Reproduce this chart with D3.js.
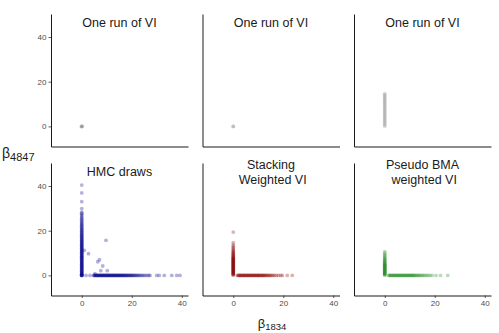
<!DOCTYPE html>
<html>
<head>
<meta charset="utf-8">
<script src="https://cdn.jsdelivr.net/npm/d3@7"></script>
<style>
  body { margin: 0; background: #fff; }
  text { font-family: "Liberation Sans", Arial, sans-serif; }
</style>
</head>
<body>
<div class="chart"></div>
<script>
// values: beta_1834 (x) against beta_4847 (y)
// "spike" = draws with beta_1834 at 0, "slab" = draws with beta_4847 at 0
const titles = ['One run of VI', 'One run of VI', 'One run of VI', 'HMC draws', 'Stacking\n\u00a0Weighted VI', 'Pseudo BMA\n\u00a0weighted VI'];
const colors = ['#7f7f7f', '#7f7f7f', '#7f7f7f', '#00008b', '#8b0000', '#228b22'];
const opacities = [0.2, 0.2, 0.2, 0.3, 0.3, 0.3];
const xTicks = [0, 20, 40];
const yTicks = [0, 20, 40];

const vi1Points = [[0, 0], [0, 0], [0, 0], [0.2, 0.1], [-0.2, -0.1], [0.1, -0.1]];
const vi2Points = [[0, 0], [0, 0], [0, 0]];
const vi3Spike = [0.0, 0.4, 0.9, 1.3, 1.8, 2.2, 2.7, 3.1, 3.6, 4.0, 4.5, 4.9, 5.4, 5.8, 6.3, 6.7, 7.2, 7.6, 8.1, 8.5,
    9.0, 9.4, 9.9, 10.3, 10.8, 11.2, 11.7, 12.1, 12.6, 13.0, 13.5, 13.9, 14.4, 14.7];

const hmcSpike = [0.1, 0.3, 0.5, 0.8, 1.0, 1.2, 1.5, 1.7, 1.9, 2.2, 2.4, 2.6, 2.9, 3.1, 3.3, 3.6, 3.8, 4.0, 4.3, 4.5,
    4.8, 5.0, 5.2, 5.5, 5.7, 6.0, 6.2, 6.4, 6.7, 6.9, 7.2, 7.4, 7.7, 7.9, 8.1, 8.4, 8.6, 8.9, 9.1, 9.4, 9.6, 9.9,
    10.1, 10.4, 10.6, 10.9, 11.1, 11.4, 11.7, 11.9, 12.2, 12.4, 12.7, 13.0, 13.2, 13.5, 13.8, 14.0, 14.3, 14.6,
    14.9, 15.1, 15.4, 15.7, 16.0, 16.3, 16.6, 16.9, 17.2, 17.5, 17.8, 18.1, 18.4, 18.8, 19.1, 19.4, 19.8, 20.1,
    20.5, 20.8, 21.2, 21.6, 22.0, 22.4, 22.8, 23.2, 23.7, 24.1, 24.6, 25.1, 25.6, 26.1, 26.7, 27.2, 27.8, 28.3,
    29.9, 33.0, 36.9, 40.4];
const hmcSlab = [1.7, 3.3, 4.7, 4.9, 5.2, 5.4, 5.6, 5.9, 6.1, 6.3, 6.6, 6.8, 7.0, 7.3, 7.5, 7.7, 8.0, 8.2, 8.4, 8.7,
    8.9, 9.1, 9.4, 9.6, 9.8, 10.1, 10.3, 10.5, 10.8, 11.0, 11.2, 11.5, 11.7, 11.9, 12.2, 12.4, 12.6, 12.9, 13.1,
    13.3, 13.6, 13.8, 14.0, 14.3, 14.5, 14.8, 15.0, 15.2, 15.5, 15.7, 16.0, 16.2, 16.5, 16.7, 17.0, 17.2, 17.5,
    17.8, 18.0, 18.3, 18.6, 18.9, 19.2, 19.5, 19.8, 20.1, 20.4, 20.8, 21.1, 21.5, 21.9, 22.3, 22.7, 23.2, 23.7,
    24.2, 24.8, 25.4, 26.1, 26.8, 27.3, 30.0, 31.0, 33.0, 36.0, 38.0, 39.3];
const hmcOther = [[0, 0], [0, 0], [0, 0], [0, 0], [1.0, 11.2], [2.7, 9.7], [9.7, 15.7], [7.1, 7.0], [6.4, 6.1],
    [8.4, 4.2], [7.6, 2.1], [10.2, 2.1], [5.3, 0.8]];

const stackSpike = [0.1, 0.3, 0.5, 0.7, 0.9, 1.1, 1.3, 1.5, 1.7, 1.9, 2.1, 2.3, 2.5, 2.7, 2.9, 3.1, 3.3, 3.5, 3.7,
    3.9, 4.1, 4.3, 4.5, 4.7, 4.9, 5.1, 5.3, 5.5, 5.7, 5.9, 6.1, 6.3, 6.5, 6.7, 6.9, 7.1, 7.3, 7.5, 7.7, 7.9, 8.1,
    8.4, 8.7, 9.0, 9.3, 9.6, 9.9, 10.2, 10.6, 11.0, 11.4, 11.9, 12.4, 13.0, 13.7, 14.6, 19.4];
const stackSlab = [1.6, 1.9, 2.2, 2.5, 2.8, 3.0, 3.3, 3.6, 3.9, 4.2, 4.4, 4.7, 5.0, 5.3, 5.6, 5.8, 6.1, 6.4, 6.7,
    7.0, 7.2, 7.5, 7.8, 8.1, 8.4, 8.6, 8.9, 9.2, 9.5, 9.8, 10.0, 10.3, 10.6, 10.9, 11.2, 11.5, 11.8, 12.1, 12.4,
    12.7, 13.1, 13.4, 13.8, 14.2, 14.6, 15.0, 15.5, 16.0, 16.6, 17.3, 18.1, 19.0, 19.6, 21.6, 23.6];

const bmaSpike = [0.1, 0.3, 0.5, 0.7, 0.9, 1.1, 1.3, 1.5, 1.7, 1.9, 2.1, 2.3, 2.5, 2.7, 2.9, 3.1, 3.3, 3.5, 3.7,
    3.9, 4.1, 4.3, 4.5, 4.7, 4.9, 5.1, 5.3, 5.6, 5.9, 6.2, 6.5, 6.8, 7.1, 7.5, 7.9, 8.3, 8.8, 9.3, 9.9, 10.6];
const bmaSlab = [1.5, 1.8, 2.1, 2.4, 2.7, 3.0, 3.3, 3.6, 3.9, 4.2, 4.5, 4.8, 5.1, 5.4, 5.7, 6.0, 6.3, 6.6, 6.9,
    7.2, 7.5, 7.8, 8.1, 8.4, 8.7, 9.0, 9.3, 9.6, 9.9, 10.2, 10.5, 10.8, 11.1, 11.4, 11.7, 12.0, 12.4, 12.8, 13.2,
    13.6, 14.0, 14.5, 15.0, 15.5, 16.1, 16.7, 17.4, 18.1, 19.0, 20.5, 22.3, 25.2];

function joinDraws(spike, slab, other) {
    return spike.map(y => [0, y])
        .concat(slab.map(x => [x, 0]))
        .concat(other);
}

const panels = [
    vi1Points,
    vi2Points,
    joinDraws(vi3Spike, [], []),
    joinDraws(hmcSpike, hmcSlab, hmcOther),
    joinDraws(stackSpike, stackSlab, []),
    joinDraws(bmaSpike, bmaSlab, [])
];

const width = 499;
const height = 333;
const panelWidth = 137;
const panelHeight = 132.5;
const colLeft = [51, 202.5, 354];
const rowTop = [14, 163];

const svg = d3.select('.chart')
    .append('svg')
    .attr('width', width)
    .attr('height', height)

const x = d3.scaleLinear().domain([-12.3, 42.5]).range([0, panelWidth]);
const y = d3.scaleLinear().domain([-9, 50.3]).range([panelHeight, 0]);

panels.forEach((points, i) => {
    const col = i % 3;
    const row = Math.floor(i / 3);
    const g = svg.append('g')
        .attr('transform', `translate(${colLeft[col]},${rowTop[row]})`);

    // points
    g.selectAll('.dot')
        .data(points)
        .enter()
        .append('circle')
        .attr('class', 'dot')
        .attr('cx', d => x(d[0]))
        .attr('cy', d => y(d[1]))
        .attr('r', 1.9)
        .attr('fill', colors[i])
        .attr('fill-opacity', opacities[i])

    // x axis, labels only on the bottom row
    const xAxis = g.append('g')
        .attr('transform', `translate(0,${panelHeight})`)
        .call(d3.axisBottom(x).tickValues(row === 1 ? xTicks : []).tickSize(2.5).tickPadding(2).tickSizeOuter(0));
    // y axis, labels only in the first column
    const yAxis = g.append('g')
        .call(d3.axisLeft(y).tickValues(col === 0 ? yTicks : []).tickSize(2.5).tickPadding(2).tickSizeOuter(0));

    [xAxis, yAxis].forEach(a => {
        a.select('.domain').attr('stroke', '#000').attr('stroke-width', 0.9);
        a.selectAll('.tick line').attr('stroke', '#333').attr('stroke-width', 0.8);
        a.selectAll('.tick text')
            .attr('fill', '#4d4d4d')
            .attr('font-size', '8px')
            .attr('font-family', '"Liberation Sans", Arial, sans-serif');
    });

    // panel title
    const lines = titles[i].split('\n');
    const title = g.append('text')
        .attr('x', panelWidth / 2)
        .attr('y', 13.3 - (lines.length - 1) * 7.8)
        .attr('text-anchor', 'middle')
        .attr('font-size', '12.5px')
        .attr('fill', '#1a1a1a');
    lines.forEach((line, k) => {
        title.append('tspan')
            .attr('x', panelWidth / 2)
            .attr('dy', k === 0 ? 0 : 15.6)
            .text(line);
    });
});

// axis titles
const yLabel = svg.append('text')
    .attr('x', 2)
    .attr('y', 158)
    .attr('font-size', '14px')
    .attr('fill', '#1a1a1a')
    .text('β');
yLabel.append('tspan')
    .attr('font-size', '11px')
    .attr('dy', 2.5)
    .text('4847');

const xLabel = svg.append('text')
    .attr('x', 272)
    .attr('y', 327.5)
    .attr('text-anchor', 'middle')
    .attr('font-size', '13px')
    .attr('fill', '#1a1a1a')
    .text('β');
xLabel.append('tspan')
    .attr('font-size', '9.5px')
    .attr('dy', 2.5)
    .text('1834');
</script>
</body>
</html>
